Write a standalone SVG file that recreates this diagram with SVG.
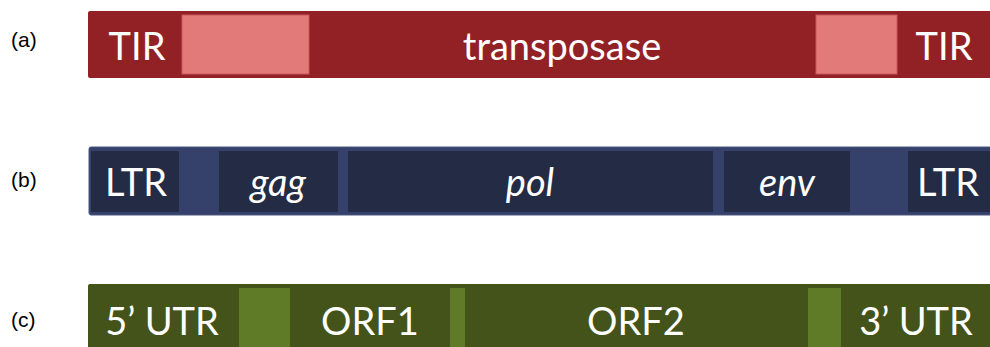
<svg xmlns="http://www.w3.org/2000/svg" width="990" height="347" viewBox="0 0 990 347">
<style>
.lbl{font-family:"Liberation Sans",Arial,sans-serif;font-size:21px;fill:#000}
.t{font-family:Lato,"Open Sans",sans-serif;font-size:38px;fill:#fff;text-anchor:middle}
.i{font-style:italic}
.redD{fill:#922126}
.redL{fill:#E27A7A;stroke:#C8585A;stroke-width:1}
.blueL{fill:#35416A;stroke:#4A5780;stroke-width:1}
.blueD{fill:#232B45}
.grnD{fill:#43531A}
.grnL{fill:#5F7B27}
</style>
<rect width="990" height="347" fill="#fff"/>
<text class="lbl" x="11" y="47">(a)</text>
<text class="lbl" x="11" y="187">(b)</text>
<text class="lbl" x="11" y="327">(c)</text>

<g id="a">
<rect class="redD" x="88" y="11" width="904" height="67" rx="2"/>
<rect class="redL" x="182" y="15" width="127" height="59"/>
<rect class="redL" x="816" y="15" width="81" height="59"/>
<text class="t" x="137" y="60">TIR</text>
<text class="t" x="562" y="60">transposase</text>
<text class="t" x="944" y="60">TIR</text>
</g>

<g id="b">
<rect class="blueL" x="89" y="147" width="903" height="68" rx="2"/>
<rect class="blueD" x="91" y="151" width="88" height="61"/>
<rect class="blueD" x="219" y="151" width="119" height="61"/>
<rect class="blueD" x="348" y="151" width="365" height="61"/>
<rect class="blueD" x="724" y="151" width="126" height="61"/>
<rect class="blueD" x="908" y="151" width="84" height="61"/>
<text class="t" x="136" y="196">LTR</text>
<text class="t i" x="278" y="196">gag</text>
<text class="t i" x="530" y="196">pol</text>
<text class="t i" x="787" y="196">env</text>
<text class="t" x="948" y="196">LTR</text>
</g>

<g id="c">
<rect class="grnD" x="88" y="284" width="904" height="70" rx="2"/>
<rect class="grnL" x="239" y="288" width="51" height="66"/>
<rect class="grnL" x="450" y="288" width="15" height="66"/>
<rect class="grnL" x="808" y="288" width="33" height="66"/>
<text class="t" x="162" y="335">5’ UTR</text>
<text class="t" x="370" y="335">ORF1</text>
<text class="t" x="636" y="335">ORF2</text>
<text class="t" x="916" y="335">3’ UTR</text>
</g>
<g id="connectors"/>
</svg>
